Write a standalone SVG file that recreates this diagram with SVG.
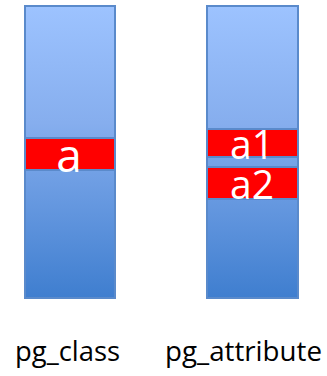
<svg xmlns="http://www.w3.org/2000/svg" width="327" height="376" viewBox="0 0 327 376">
  <defs>
    <linearGradient id="colGrad" x1="0" y1="0" x2="0" y2="1">
      <stop offset="0" stop-color="#9DC3FF"/>
      <stop offset="0.4" stop-color="#86AEEE"/>
      <stop offset="1" stop-color="#3F7ECF"/>
    </linearGradient>
  </defs>
  <style>
    .col { fill: url(#colGrad); stroke: #5A8ACB; stroke-width: 2; }
    .bar { fill: #FF0000; stroke: #5A8ACB; stroke-width: 2; }
    .barText { font-family: "Open Sans", "Liberation Sans", sans-serif; fill: #FFFFFF; text-anchor: middle; }
    .label { font-family: "Open Sans", "Liberation Sans", sans-serif; font-size: 28px; fill: #000000; }
  </style>
  <g id="pg_class">
    <rect class="col" x="25" y="6" width="90" height="292"/>
    <g id="row_a">
      <rect class="bar" x="25" y="138" width="90" height="32"/>
      <text class="barText" x="69" y="172" font-size="46">a</text>
    </g>
    <text class="label" x="15" y="361" textLength="105" lengthAdjust="spacingAndGlyphs">pg_class</text>
  </g>
  <g id="pg_attribute">
    <rect class="col" x="207" y="6" width="91" height="292"/>
    <g id="row_a1">
      <rect class="bar" x="207" y="129" width="91" height="28"/>
      <text class="barText" x="252" y="159" font-size="40" textLength="44" lengthAdjust="spacingAndGlyphs">a1</text>
    </g>
    <g id="row_a2">
      <rect class="bar" x="207" y="167" width="91" height="32"/>
      <text class="barText" x="252" y="199" font-size="40" textLength="44" lengthAdjust="spacingAndGlyphs">a2</text>
    </g>
    <text class="label" x="165" y="361" textLength="157" lengthAdjust="spacingAndGlyphs">pg_attribute</text>
  </g>
  <g id="connectors"/>
</svg>
